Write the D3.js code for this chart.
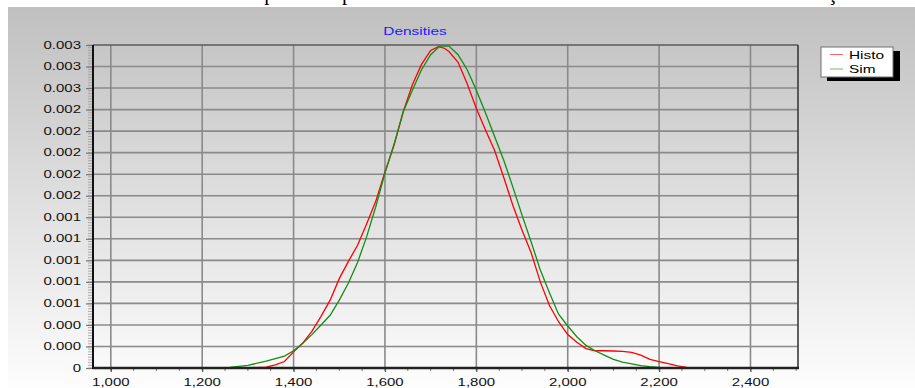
<!DOCTYPE html>
<html>
<head>
<meta charset="utf-8">
<title>Densities</title>
<script src="https://d3js.org/d3.v7.min.js"></script>
<style>
  body { margin: 0; background: #fff; }
  text { font-family: Arial, "Liberation Sans", sans-serif; }
</style>
</head>
<body>
<script>
// series: Histo (red) and Sim (green), densities
var histoX = [961, 1000, 1100, 1200, 1260, 1300, 1340, 1360, 1380, 1400, 1420, 1440, 1460, 1480, 1500, 1520, 1540, 1560, 1580, 1600, 1620, 1640, 1660, 1680, 1700, 1717, 1730, 1740, 1760, 1780, 1800, 1820, 1840, 1860, 1880, 1900, 1920, 1940, 1960, 1980, 2000, 2020, 2040, 2060, 2080, 2100, 2120, 2140, 2160, 2180, 2200, 2220, 2240, 2260, 2280, 2400, 2504];
var histoY = [0, 0, 0, 0, 0, 0.000002, 0.000008, 0.00003, 0.00006, 0.00015, 0.00023, 0.00034, 0.00048, 0.00063, 0.00083, 0.00099, 0.00114, 0.00134, 0.00155, 0.00182, 0.00207, 0.00238, 0.00263, 0.00282, 0.00295, 0.002985, 0.00297, 0.00294, 0.00284, 0.00264, 0.00241, 0.00221, 0.00202, 0.00177, 0.00151, 0.00128, 0.00107, 0.00080, 0.00058, 0.00043, 0.00031, 0.00024, 0.00018, 0.00016, 0.00016, 0.000158, 0.000155, 0.000145, 0.00012, 0.00008, 0.00006, 0.00004, 0.00002, 0.000005, 0, 0, 0];

var simX = [1020, 1100, 1200, 1260, 1300, 1340, 1380, 1400, 1420, 1440, 1460, 1480, 1500, 1520, 1540, 1560, 1580, 1600, 1620, 1640, 1660, 1680, 1700, 1720, 1740, 1760, 1780, 1800, 1820, 1840, 1860, 1880, 1900, 1920, 1940, 1960, 1980, 2000, 2020, 2040, 2060, 2080, 2100, 2120, 2140, 2160, 2180, 2200, 2240, 2450];
var simY = [0, 0, 0.000001, 0.000005, 0.000025, 0.000063, 0.00011, 0.00016, 0.00023, 0.00031, 0.00040, 0.00049, 0.00063, 0.00079, 0.00098, 0.00122, 0.00150, 0.00181, 0.00208, 0.00238, 0.00258, 0.00277, 0.00291, 0.00299, 0.00299, 0.00291, 0.00277, 0.00258, 0.00237, 0.00215, 0.00193, 0.00168, 0.00142, 0.00117, 0.00091, 0.00070, 0.00050, 0.00039, 0.00029, 0.00021, 0.00016, 0.00012, 0.00008, 0.000055, 0.000038, 0.000022, 0.000012, 0.000005, 0, 0];

var seriesNames = ["Histo", "Sim"];
var seriesColors = ["#ff0000", "#109010"];

var xTickValues = [1000, 1200, 1400, 1600, 1800, 2000, 2200, 2400];
var yTickValues = [0, 0.0002, 0.0004, 0.0006, 0.0008, 0.001, 0.0012, 0.0014, 0.0016, 0.0018, 0.002, 0.0022, 0.0024, 0.0026, 0.0028, 0.003];

var W = 915, H = 388;
var pLeft = 93, pRight = 798, pTop = 45, pBottom = 368;

var svg = d3.select("body").append("svg")
  .attr("width", W)
  .attr("height", H);

// cut-off line of page text above the chart
svg.append("text")
  .attr("x", 6).attr("y", 0.4)
  .attr("textLength", 895).attr("lengthAdjust", "spacing")
  .style("font-family", "'Liberation Serif', 'Times New Roman', serif")
  .style("font-size", "21px")
  .attr("fill", "#000")
  .text("des    ra  r a neat flow pod  a período de inverno de novembro a março. Se");

// panel gradient
var defs = svg.append("defs");
var grad = defs.append("linearGradient").attr("id", "bg")
  .attr("x1", 0).attr("y1", 0).attr("x2", 0).attr("y2", 1);
grad.append("stop").attr("offset", "0%").attr("stop-color", "#c0c0c0");
grad.append("stop").attr("offset", "100%").attr("stop-color", "#fdfdfd");

svg.append("rect")
  .attr("x", 8).attr("y", 7)
  .attr("width", W - 8).attr("height", H - 7)
  .attr("fill", "url(#bg)");

var x = d3.scaleLinear().domain([961, 2504]).range([pLeft, pRight]);
var y = d3.scaleLinear().domain([0, 0.003]).range([pBottom, pTop]);

// grid
svg.append("g").selectAll("line").data(yTickValues.slice(1, -1)).join("line")
  .attr("x1", pLeft).attr("x2", pRight)
  .attr("y1", d => y(d)).attr("y2", d => y(d))
  .attr("stroke", "#8a8a8a").attr("stroke-width", 1.6);
svg.append("g").selectAll("line").data(xTickValues).join("line")
  .attr("x1", d => x(d)).attr("x2", d => x(d))
  .attr("y1", pTop).attr("y2", pBottom)
  .attr("stroke", "#8a8a8a").attr("stroke-width", 1.6);

// minor ticks
var yMinor = d3.range(0, 0.0030001, 0.000025);
svg.append("g").selectAll("line").data(yMinor).join("line")
  .attr("x1", pLeft - 5).attr("x2", pLeft - 1)
  .attr("y1", d => y(d)).attr("y2", d => y(d))
  .attr("stroke", "#9a9a9a").attr("stroke-width", 0.8);
var xMinor = d3.range(1000, 2501, 50);
svg.append("g").selectAll("line").data(xMinor).join("line")
  .attr("x1", d => x(d)).attr("x2", d => x(d))
  .attr("y1", pBottom).attr("y2", pBottom + 3)
  .attr("stroke", "#777").attr("stroke-width", 1);

// major ticks through axes
svg.append("g")
  .attr("transform", "translate(" + pLeft + ",0)")
  .call(d3.axisLeft(y).tickValues(yTickValues).tickFormat("").tickSize(7).tickSizeOuter(0))
  .call(g => g.select(".domain").remove())
  .call(g => g.selectAll(".tick line").attr("stroke", "#777").attr("stroke-width", 1.2));
svg.append("g")
  .attr("transform", "translate(0," + pBottom + ")")
  .call(d3.axisBottom(x).tickValues(xTickValues).tickFormat("").tickSize(4).tickSizeOuter(0))
  .call(g => g.select(".domain").remove())
  .call(g => g.selectAll(".tick line").attr("stroke", "#555").attr("stroke-width", 1.2));

// tick labels (horizontally stretched like the original image)
var yFmt = d => d === 0 ? "0" : d3.format(".3f")(d);
svg.append("g").selectAll("text").data(yTickValues).join("text")
  .attr("transform", d => "translate(81," + (y(d) + 3.6) + ") scale(1.5,1)")
  .attr("text-anchor", "end")
  .style("font-size", "10px")
  .attr("fill", "#111")
  .text(yFmt);
svg.append("g").selectAll("text").data(xTickValues).join("text")
  .attr("transform", d => "translate(" + x(d) + ",386) scale(1.5,1)")
  .attr("text-anchor", "middle")
  .style("font-size", "10px")
  .attr("fill", "#111")
  .text(d3.format(","));

// frame
svg.append("line").attr("x1", pLeft).attr("x2", pRight).attr("y1", pTop).attr("y2", pTop)
  .attr("stroke", "#5a5a5a").attr("stroke-width", 1.6);
svg.append("line").attr("x1", pRight).attr("x2", pRight).attr("y1", pTop).attr("y2", pBottom)
  .attr("stroke", "#3a3a3a").attr("stroke-width", 1.6);

// curves
var line = d3.line().x(d => x(d[0])).y(d => y(d[1]));
var histo = histoX.map((v, i) => [v, histoY[i]]);
var sim = simX.map((v, i) => [v, simY[i]]);
svg.append("path").datum(histo).attr("d", line)
  .attr("fill", "none").attr("stroke", seriesColors[0]).attr("stroke-width", 1.3);
svg.append("path").datum(sim).attr("d", line)
  .attr("fill", "none").attr("stroke", seriesColors[1]).attr("stroke-width", 1.3);

// axis lines
svg.append("line").attr("x1", pLeft).attr("x2", pLeft).attr("y1", pTop).attr("y2", pBottom + 1)
  .attr("stroke", "#111").attr("stroke-width", 2);
svg.append("line").attr("x1", pLeft).attr("x2", pRight + 1).attr("y1", pBottom).attr("y2", pBottom)
  .attr("stroke", "#222").attr("stroke-width", 2.4);

// title
svg.append("text")
  .attr("transform", "translate(415,35) scale(1.4,1)")
  .attr("text-anchor", "middle")
  .style("font-size", "11px")
  .attr("fill", "#1a1aff")
  .text("Densities");

// legend
var lg = svg.append("g");
lg.append("rect").attr("x", 827).attr("y", 51).attr("width", 73).attr("height", 30).attr("fill", "#000");
lg.append("rect").attr("x", 821).attr("y", 47).attr("width", 72).attr("height", 30)
  .attr("fill", "#fff").attr("stroke", "#707070").attr("stroke-width", 1);
seriesNames.forEach(function(name, i) {
  var ly = 54.5 + i * 14.5;
  lg.append("line").attr("x1", 830).attr("x2", 843).attr("y1", ly).attr("y2", ly)
    .attr("stroke", seriesColors[i]).attr("stroke-width", 1).attr("stroke-opacity", 0.6);
  lg.append("text")
    .attr("transform", "translate(849," + (ly + 4) + ") scale(1.4,1)")
    .style("font-size", "11px")
    .attr("fill", "#000")
    .text(name);
});
</script>
</body>
</html>
